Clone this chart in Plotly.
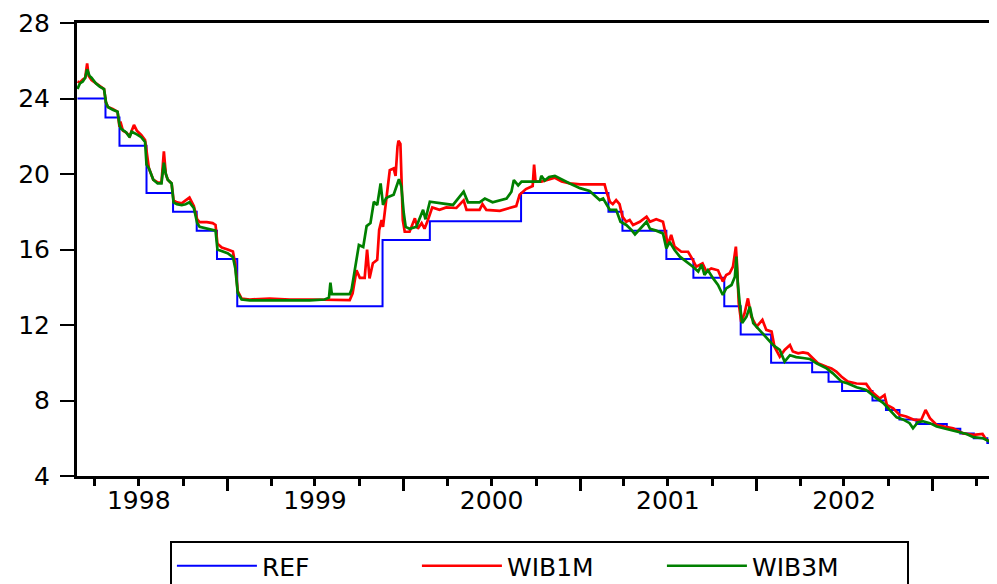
import plotly.graph_objects as go

# ---------------- data ----------------
ref_dates = ["1998-02-24", "1998-04-23", "1998-05-22", "1998-07-17", "1998-09-10", "1998-10-29",
             "1998-12-10", "1999-01-21", "1999-11-18", "2000-02-24", "2000-08-31", "2001-02-28",
             "2001-03-29", "2001-06-28", "2001-08-23", "2001-10-26", "2001-11-29", "2002-01-31",
             "2002-04-26", "2002-05-30", "2002-06-27", "2002-08-29", "2002-09-26", "2002-10-24",
             "2002-11-28", "2003-01-30", "2003-02-27", "2003-03-27", "2003-04-24", "2003-05-13"]
ref_values = [24, 23, 21.5, 19, 18, 17, 15.5, 13, 16.5, 17.5, 19, 18,
              17, 15.5, 14.5, 13, 11.5, 10, 9.5, 9, 8.5, 8, 7.5, 7,
              6.75, 6.5, 6.25, 6, 5.75, 5.75]

wib1m_dates = [
    "1998-02-24", "1998-03-01", "1998-03-07", "1998-03-12", "1998-03-16", "1998-03-19", "1998-03-25",
    "1998-04-03", "1998-04-11", "1998-04-20", "1998-04-24", "1998-04-28", "1998-05-08", "1998-05-18",
    "1998-05-22", "1998-05-24", "1998-05-29", "1998-06-05", "1998-06-12", "1998-06-16", "1998-06-21",
    "1998-06-27", "1998-07-06", "1998-07-14", "1998-07-17", "1998-07-19", "1998-07-22", "1998-07-31",
    "1998-08-09", "1998-08-17", "1998-08-22", "1998-08-26", "1998-08-30", "1998-09-07", "1998-09-11",
    "1998-09-18", "1998-09-28", "1998-10-06", "1998-10-14", "1998-10-23", "1998-10-30", "1998-11-04",
    "1998-11-19", "1998-12-01", "1998-12-07", "1998-12-11", "1998-12-20", "1999-01-01", "1999-01-12",
    "1999-01-17", "1999-01-22", "1999-01-30", "1999-02-16", "1999-03-29", "1999-05-10", "1999-06-20",
    "1999-08-01", "1999-09-11", "1999-09-17", "1999-09-25", "1999-10-02", "1999-10-12", "1999-10-17",
    "1999-10-22", "1999-10-29", "1999-11-07", "1999-11-11", "1999-11-16", "1999-11-19", "1999-11-25",
    "1999-12-03", "1999-12-11", "1999-12-15", "1999-12-19", "1999-12-21", "1999-12-25", "1999-12-27",
    "1999-12-30", "2000-01-03", "2000-01-13", "2000-01-24", "2000-01-30", "2000-02-07", "2000-02-13",
    "2000-02-20", "2000-02-29", "2000-03-15", "2000-03-29", "2000-04-19", "2000-05-04", "2000-05-10",
    "2000-06-06", "2000-06-12", "2000-06-20", "2000-07-18", "2000-08-14", "2000-08-21", "2000-08-28",
    "2000-09-10", "2000-09-24", "2000-09-27", "2000-09-30", "2000-10-12", "2000-10-26", "2000-11-09",
    "2000-11-23", "2000-12-10", "2000-12-31", "2001-01-20", "2001-02-10", "2001-02-20", "2001-02-25",
    "2001-03-03", "2001-03-09", "2001-03-16", "2001-03-23", "2001-03-29", "2001-04-06", "2001-04-13",
    "2001-04-20", "2001-05-04", "2001-05-18", "2001-05-25", "2001-06-07", "2001-06-21", "2001-06-27",
    "2001-07-01", "2001-07-08", "2001-07-15", "2001-07-29", "2001-08-12", "2001-08-22", "2001-08-29",
    "2001-09-11", "2001-09-19", "2001-09-29", "2001-10-13", "2001-10-23", "2001-10-30", "2001-11-06",
    "2001-11-13", "2001-11-19", "2001-11-21", "2001-11-25", "2001-11-30", "2001-12-07", "2001-12-14",
    "2001-12-21", "2002-01-01", "2002-01-13", "2002-01-21", "2002-02-01", "2002-02-07", "2002-02-18",
    "2002-02-28", "2002-03-11", "2002-03-17", "2002-03-28", "2002-04-07", "2002-04-17", "2002-04-24",
    "2002-05-08", "2002-05-26", "2002-06-05", "2002-06-15", "2002-06-26", "2002-07-09", "2002-07-27",
    "2002-08-16", "2002-08-27", "2002-09-13", "2002-09-23", "2002-09-28", "2002-10-11", "2002-10-24",
    "2002-11-07", "2002-11-24", "2002-12-08", "2002-12-17", "2002-12-26", "2003-01-09", "2003-01-29",
    "2003-02-12", "2003-03-05", "2003-03-26", "2003-04-14", "2003-04-22", "2003-05-13"]
wib1m = [
    24.9, 24.85, 25.0, 25.1, 25.86, 25.2, 24.98,
    24.8, 24.63, 24.5, 23.8, 23.55, 23.45, 23.3,
    22.5, 22.77, 22.3, 22.2, 22.0, 22.3, 22.6,
    22.3, 22.07, 21.8, 21.2, 20.9, 20.3, 19.7,
    19.55, 19.55, 21.2, 20.0, 19.7, 19.5, 18.6,
    18.5, 18.45, 18.6, 18.75, 18.3, 17.6, 17.45,
    17.45, 17.4, 17.3, 16.3, 16.1, 16.0, 15.9,
    15.2, 13.8, 13.4, 13.35, 13.4, 13.35, 13.35,
    13.35, 13.32, 13.68, 14.9, 14.5, 14.5, 16.0,
    14.47, 15.27, 15.45, 17.03, 17.56, 17.2, 18.6,
    20.2, 20.3, 19.9, 21.45, 21.76, 21.6, 19.68,
    17.56, 16.94, 16.94, 17.65, 17.1, 17.4, 17.1,
    17.56, 18.23, 18.1, 18.23, 18.2, 18.6, 18.1,
    18.1, 18.4, 18.1, 18.05, 18.23, 18.3, 18.9,
    19.2, 19.36, 20.5, 19.6, 19.6, 19.7, 19.8,
    19.6, 19.5, 19.45, 19.45, 19.42, 19.45, 18.98,
    18.53, 18.4, 18.62, 18.4, 17.74, 17.47, 17.56,
    17.3, 17.47, 17.74, 17.47, 17.6, 17.47, 16.77,
    16.24, 16.77, 16.15, 15.88, 15.88, 15.44, 15.09,
    15.27, 14.83, 15.0, 14.9, 14.3, 14.65, 14.74,
    15.09, 16.15, 15.4, 13.15, 12.17, 12.62, 13.41,
    12.44, 11.91, 12.27, 11.74, 11.65, 10.85, 10.32,
    10.68, 10.94, 10.6, 10.5, 10.55, 10.5, 10.33,
    9.97, 9.79, 9.7, 9.53, 9.26, 9.0, 8.9,
    8.88, 8.47, 8.1, 8.29, 7.76, 7.59, 7.24,
    7.15, 6.97, 6.97, 7.5, 7.06, 6.7, 6.62,
    6.53, 6.26, 6.18, 6.23, 5.91, 5.77]

wib3m_dates = [
    "1998-02-24", "1998-03-01", "1998-03-07", "1998-03-12", "1998-03-16", "1998-03-21", "1998-03-25",
    "1998-04-03", "1998-04-11", "1998-04-20", "1998-04-24", "1998-04-28", "1998-05-08", "1998-05-18",
    "1998-05-22", "1998-05-25", "1998-06-05", "1998-06-12", "1998-06-16", "1998-06-20", "1998-06-27",
    "1998-07-06", "1998-07-14", "1998-07-17", "1998-07-22", "1998-07-31", "1998-08-09", "1998-08-17",
    "1998-08-22", "1998-08-26", "1998-08-30", "1998-09-07", "1998-09-11", "1998-09-18", "1998-09-28",
    "1998-10-06", "1998-10-14", "1998-10-23", "1998-10-30", "1998-11-04", "1998-11-19", "1998-12-01",
    "1998-12-07", "1998-12-11", "1998-12-20", "1999-01-01", "1999-01-12", "1999-01-17", "1999-01-22",
    "1999-01-30", "1999-02-16", "1999-03-29", "1999-05-10", "1999-06-20", "1999-07-21", "1999-07-30",
    "1999-08-02", "1999-08-05", "1999-08-21", "1999-09-11", "1999-09-15", "1999-09-21", "1999-09-30",
    "1999-10-09", "1999-10-16", "1999-10-24", "1999-10-31", "1999-11-07", "1999-11-14", "1999-11-19",
    "1999-11-25", "1999-12-01", "1999-12-11", "1999-12-22", "1999-12-27", "2000-01-01", "2000-01-05",
    "2000-01-13", "2000-01-27", "2000-02-10", "2000-02-15", "2000-02-24", "2000-03-15", "2000-04-12",
    "2000-05-04", "2000-05-13", "2000-06-06", "2000-06-17", "2000-07-03", "2000-08-01", "2000-08-11",
    "2000-08-16", "2000-08-25", "2000-09-01", "2000-10-09", "2000-10-12", "2000-10-19", "2000-10-28",
    "2000-11-09", "2000-11-23", "2000-12-10", "2000-12-31", "2001-01-20", "2001-02-10", "2001-02-17",
    "2001-02-24", "2001-03-03", "2001-03-16", "2001-03-25", "2001-04-06", "2001-04-17", "2001-04-24",
    "2001-05-04", "2001-05-18", "2001-05-25", "2001-06-07", "2001-06-21", "2001-06-28", "2001-07-05",
    "2001-07-15", "2001-07-26", "2001-08-09", "2001-08-22", "2001-09-02", "2001-09-09", "2001-09-15",
    "2001-09-22", "2001-10-03", "2001-10-13", "2001-10-23", "2001-10-30", "2001-11-10", "2001-11-17",
    "2001-11-20", "2001-11-23", "2001-11-27", "2001-12-02", "2001-12-11", "2001-12-18", "2001-12-25",
    "2002-01-07", "2002-01-21", "2002-02-04", "2002-02-18", "2002-02-28", "2002-03-11", "2002-03-24",
    "2002-04-07", "2002-04-21", "2002-05-05", "2002-05-26", "2002-06-08", "2002-06-26", "2002-07-09",
    "2002-07-27", "2002-08-16", "2002-09-06", "2002-09-20", "2002-10-04", "2002-10-18", "2002-10-31",
    "2002-11-14", "2002-11-21", "2002-12-01", "2002-12-12", "2002-12-26", "2003-01-09", "2003-01-29",
    "2003-02-19", "2003-03-12", "2003-03-26", "2003-04-15", "2003-04-29", "2003-05-13"]
wib3m = [
    24.5, 24.8, 24.9, 25.1, 25.55, 25.2, 25.1,
    24.8, 24.63, 24.5, 23.8, 23.55, 23.4, 23.3,
    22.6, 22.4, 22.2, 21.95, 22.24, 22.2, 22.1,
    21.95, 21.7, 20.5, 20.3, 19.7, 19.5, 19.5,
    20.6, 20.0, 19.7, 19.5, 18.5, 18.4, 18.35,
    18.4, 18.5, 18.2, 17.4, 17.2, 17.1, 17.05,
    17.0, 16.0, 15.9, 15.8, 15.6, 15.0, 13.7,
    13.35, 13.3, 13.3, 13.3, 13.3, 13.35, 13.45,
    14.24, 13.64, 13.64, 13.64, 13.9, 14.75, 16.24,
    16.13, 17.24, 17.4, 18.53, 18.36, 19.5, 18.36,
    18.71, 18.8, 18.9, 19.72, 19.33, 17.92, 17.2,
    17.1, 17.2, 18.1, 17.6, 18.53, 18.47, 18.36,
    19.06, 18.5, 18.5, 18.7, 18.5, 18.7, 19.06,
    19.68, 19.4, 19.6, 19.6, 19.9, 19.65, 19.84,
    19.9, 19.7, 19.5, 19.25, 19.1, 18.62, 18.7,
    18.4, 18.1, 18.1, 17.47, 17.3, 17.03, 16.8,
    17.1, 17.47, 17.1, 17.0, 16.85, 16.06, 16.4,
    15.97, 15.62, 15.35, 15.09, 14.83, 15.2, 14.65,
    14.9, 14.47, 14.12, 13.59, 13.94, 14.12, 14.56,
    15.62, 14.2, 13.15, 12.1, 12.44, 12.97, 12.1,
    11.74, 11.38, 10.94, 10.68, 10.06, 10.4, 10.3,
    10.25, 10.2, 9.97, 9.7, 9.44, 9.0, 8.9,
    8.7, 8.56, 8.12, 7.88, 7.5, 7.11, 7.0,
    6.8, 6.53, 6.85, 6.9, 6.8, 6.62, 6.49,
    6.36, 6.23, 6.06, 6.0, 5.82, 5.6]

series_names = ["REF", "WIB1M", "WIB3M"]
series_colors = ["#0000FF", "#FF0000", "#008000"]

y_ticks = [4, 8, 12, 16, 20, 24, 28]
year_labels = ["1998", "1999", "2000", "2001", "2002"]
quarter_ticks = ["1998-04-01", "1998-07-01", "1998-10-01",
                 "1999-04-01", "1999-07-01", "1999-10-01",
                 "2000-04-01", "2000-07-01", "2000-10-01",
                 "2001-04-01", "2001-07-01", "2001-10-01",
                 "2002-04-01", "2002-07-01", "2002-10-01",
                 "2003-04-01"]
year_ticks = ["1999-01-01", "2000-01-01", "2001-01-01", "2002-01-01", "2003-01-01"]
x_range = ["1998-02-23", "2003-05-14"]

# label each year at its mid-year (July) tick, blank elsewhere
quarter_text = [(q[:4] if q[5:7] == "07" and q[:4] in year_labels else "") for q in quarter_ticks]

# ---------------- figure ----------------
FONT = "'DejaVu Sans', Arial, sans-serif"

fig = go.Figure()
fig.add_trace(go.Scatter(x=ref_dates, y=ref_values, name=series_names[0], mode="lines",
                         line=dict(color=series_colors[0], width=2, shape="hv")))
fig.add_trace(go.Scatter(x=wib1m_dates, y=wib1m, name=series_names[1], mode="lines",
                         line=dict(color=series_colors[1], width=2.7)))
fig.add_trace(go.Scatter(x=wib3m_dates, y=wib3m, name=series_names[2], mode="lines",
                         line=dict(color=series_colors[2], width=2.7)))

# the page places the figure 8px from the top-left corner
fig.update_layout(
    width=989, height=576,
    margin=dict(l=69, r=0, t=15, b=108, autoexpand=False),
    paper_bgcolor="white", plot_bgcolor="white",
    font=dict(family=FONT, size=25, color="black"),
    showlegend=True,
    legend=dict(orientation="h", x=0.101, xanchor="left", y=-0.1435, yanchor="top",
                bordercolor="black", borderwidth=2, bgcolor="white",
                font=dict(family=FONT, size=25, color="black"),
                itemwidth=80, entrywidth=150),
)
fig.update_xaxes(
    type="date", range=x_range,
    tickmode="array", tickvals=quarter_ticks, ticktext=quarter_text,
    ticks="outside", ticklen=7, tickwidth=2.5, tickcolor="black",
    tickfont=dict(family=FONT, size=25, color="black"),
    ticklabelstandoff=-7,
    showline=True, linecolor="black", linewidth=2.5, mirror=True,
    showgrid=False, zeroline=False,
    minor=dict(tickmode="array", tickvals=year_ticks, ticks="outside",
               ticklen=12, tickwidth=3, tickcolor="black", showgrid=False),
)
fig.update_yaxes(
    range=[4, 28], tickmode="array", tickvals=y_ticks, ticktext=[str(v) for v in y_ticks],
    ticks="outside", ticklen=14, tickwidth=2, tickcolor="black",
    tickfont=dict(family=FONT, size=25, color="black"),
    ticklabelstandoff=5,
    showline=True, linecolor="black", linewidth=3, mirror=False,
    showgrid=False, zeroline=False,
)

fig.write_html("out.html")
